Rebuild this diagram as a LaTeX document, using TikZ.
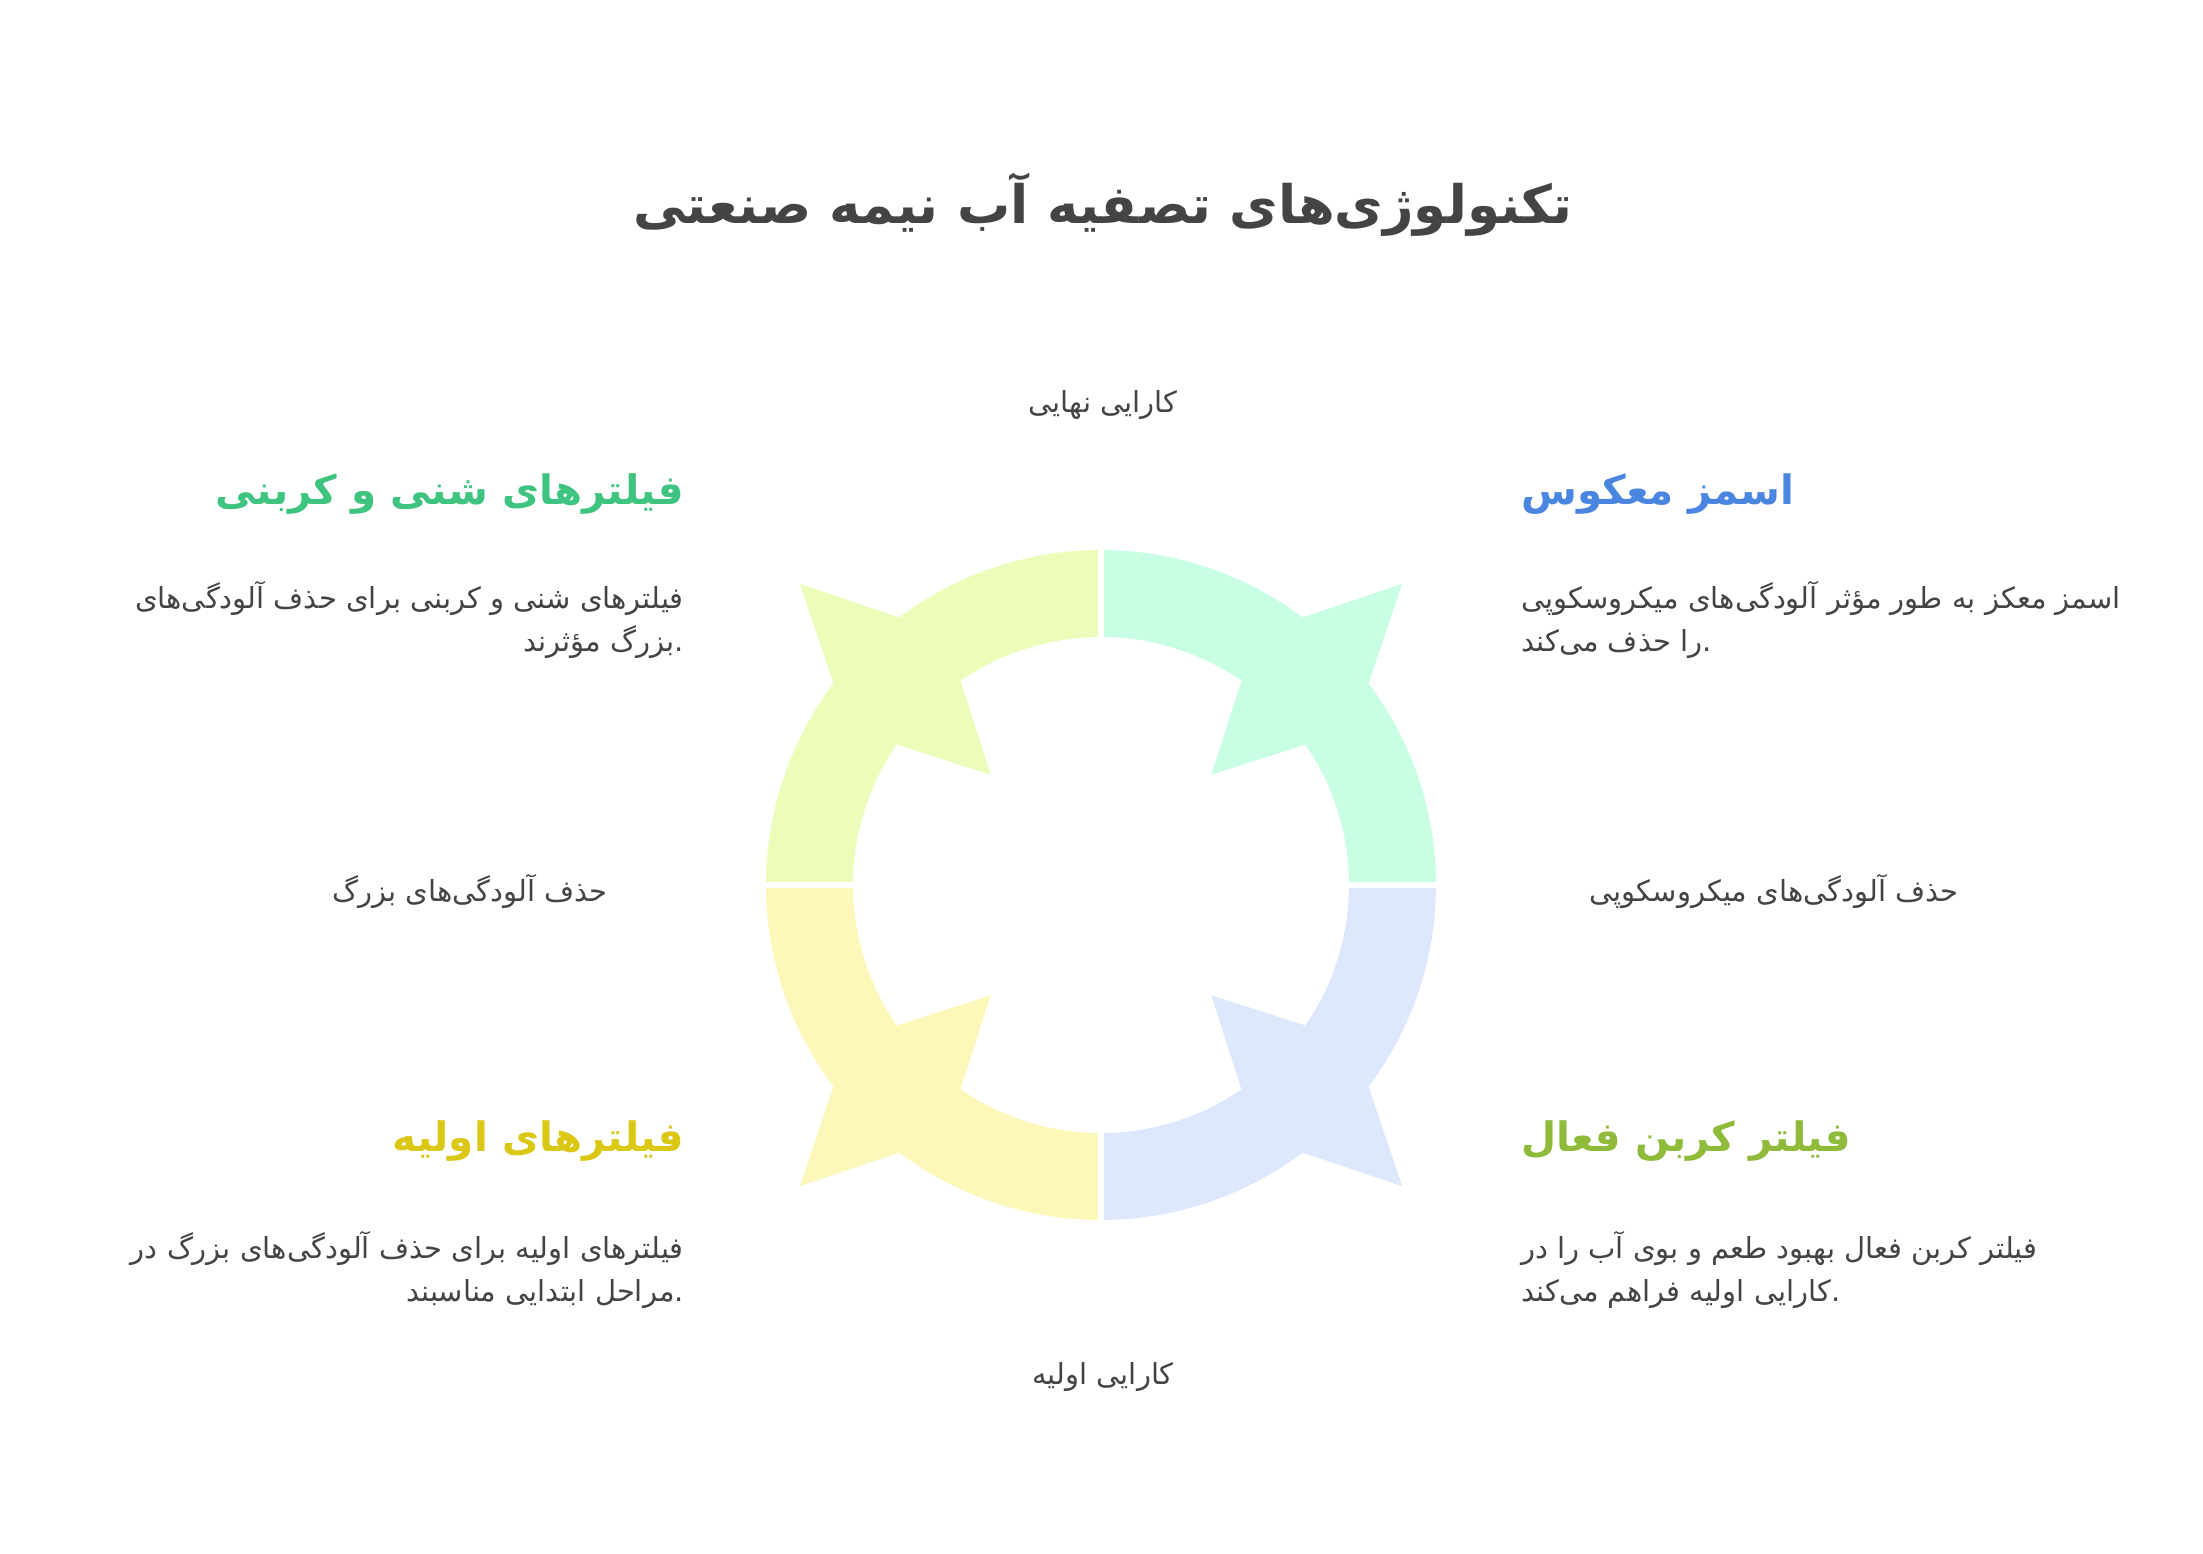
\documentclass[tikz,border=0pt]{standalone}
\usepackage{fontspec}
\newfontfamily\arabicfont[Script=Arabic]{DejaVu Sans}
\TeXXeTstate=1
\usetikzlibrary{positioning}

\definecolor{textgray}{HTML}{444444}
\definecolor{sandgreen}{HTML}{3EC480}
\definecolor{osmoblue}{HTML}{4A86E0}
\definecolor{primyellow}{HTML}{DBC814}
\definecolor{carbonolive}{HTML}{8FBA3A}
\definecolor{sandfill}{HTML}{EBFDB9}
\definecolor{osmofill}{HTML}{C8FFE4}
\definecolor{primfill}{HTML}{FDF8BA}
\definecolor{carbonfill}{HTML}{DEE8FD}

\tikzset{
  titletext/.style={font=\arabicfont\bfseries\fontsize{53}{62}\selectfont, text=textgray, inner sep=0pt},
  headtext/.style={font=\arabicfont\bfseries\fontsize{40.5}{48}\selectfont, inner sep=0pt},
  bodytext/.style={font=\arabicfont\fontsize{29}{43}\selectfont, text=textgray, inner sep=0pt},
}

\begin{document}
\begin{tikzpicture}[x=1pt,y=1pt]
        \useasboundingbox (0,0) rectangle (2203,-1554);
        \fill[white] (0,0) rectangle (2203,-1554);
        % ring of four arrows
        \begin{scope}[shift={(1101,-885)}]
        \fill[osmofill] (0:335) arc (0:37:335) -- (45:426) -- (53:335) arc (53:90:335) -- (90:248) arc (90:55.5:248) -- (45:156) -- (34.5:248) arc (34.5:0:248) -- cycle;
        \fill[sandfill] (90:335) arc (90:127:335) -- (135:426) -- (143:335) arc (143:180:335) -- (180:248) arc (180:145.5:248) -- (135:156) -- (124.5:248) arc (124.5:90:248) -- cycle;
        \fill[primfill] (180:335) arc (180:217:335) -- (225:426) -- (233:335) arc (233:270:335) -- (270:248) arc (270:235.5:248) -- (225:156) -- (214.5:248) arc (214.5:180:248) -- cycle;
        \fill[carbonfill] (270:335) arc (270:307:335) -- (315:426) -- (323:335) arc (323:360:335) -- (360:248) arc (360:325.5:248) -- (315:156) -- (304.5:248) arc (304.5:270:248) -- cycle;
        \draw[white, line width=6] (-450,0) -- (450,0);
        \draw[white, line width=6] (0,-450) -- (0,450);
        \end{scope}
        % title and axis labels
        \node[titletext] (title) at (1103,-205) {\beginR تکنولوژی‌های تصفیه آب نیمه صنعتی\endR};
        \node[bodytext] (final) at (1103,-405) {\beginR کارایی نهایی\endR};
        \node[bodytext] (initial) at (1103,-1377) {\beginR کارایی اولیه\endR};
        \node[bodytext] (large) at (470,-891) {\beginR حذف آلودگی‌های بزرگ\endR};
        \node[bodytext] (micro) at (1774,-891) {\beginR حذف آلودگی‌های میکروسکوپی\endR};
        % top left
        \node[headtext, text=sandgreen, anchor=east] (sandhead) at (684,-494) {\beginR فیلترهای شنی و کربنی\endR};
        \node[bodytext, anchor=east, align=right] (sandbody) at (684,-620) {\beginR فیلترهای شنی و کربنی برای حذف آلودگی‌های\endR\\\beginR بزرگ مؤثرند\endR.};
        % top right
        \node[headtext, text=osmoblue, anchor=west] (osmohead) at (1521,-494) {\beginR اسمز معکوس\endR};
        \node[bodytext, anchor=west, align=left] (osmobody) at (1521,-620) {\beginR اسمز معکز به طور مؤثر آلودگی‌های میکروسکوپی\endR\\\beginR را حذف می‌کند\endR.};
        % bottom left
        \node[headtext, text=primyellow, anchor=east] (primhead) at (684,-1141) {\beginR فیلترهای اولیه\endR};
        \node[bodytext, anchor=east, align=right] (primbody) at (684,-1270) {\beginR فیلترهای اولیه برای حذف آلودگی‌های بزرگ در\endR\\\beginR مراحل ابتدایی مناسبند\endR.};
        % bottom right
        \node[headtext, text=carbonolive, anchor=west] (carbonhead) at (1521,-1141) {\beginR فیلتر کربن فعال\endR};
        \node[bodytext, anchor=west, align=left] (carbonbody) at (1521,-1270) {\beginR فیلتر کربن فعال بهبود طعم و بوی آب را در\endR\\\beginR کارایی اولیه فراهم می‌کند\endR.};
\end{tikzpicture}
\end{document}
